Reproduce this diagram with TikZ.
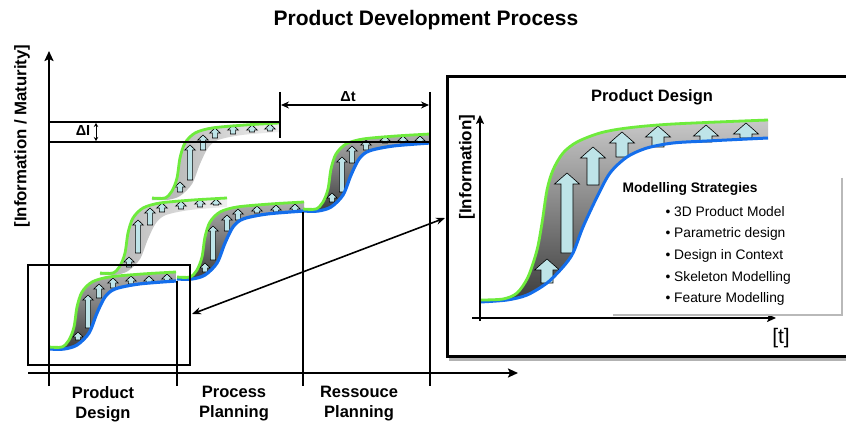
\documentclass[tikz,border=0pt]{standalone}
\usepackage{fontspec}
\setmainfont{Liberation Sans}
\usetikzlibrary{arrows.meta}

\definecolor{curvegreen}{RGB}{110,235,60}
\definecolor{curveblue}{RGB}{20,110,235}
\definecolor{arrowfill}{RGB}{190,228,232}
\definecolor{bandtop}{RGB}{175,175,175}
\definecolor{bandbot}{RGB}{60,60,60}
\definecolor{ghostleft}{RGB}{175,175,175}
\definecolor{ghostright}{RGB}{240,240,240}
\definecolor{insettop}{RGB}{200,200,200}
\definecolor{insetbot}{RGB}{60,60,60}

\tikzset{
  axisline/.style={line width=2.7pt, -{Stealth[length=10pt,width=9pt,inset=2pt]}},
  rule/.style={line width=2.6pt},
  greenline/.style={curvegreen, line width=2.8pt},
  blueline/.style={curveblue, line width=3.2pt},
  arrowbody/.style={fill=arrowfill, draw=black, line width=0.6pt, line join=miter},
  label/.style={font=\bfseries\fontsize{16.5}{20}\selectfont, align=center},
}

% block arrow pointing up: x, y of base, y of tip, head half-width, shaft half-width, head height
\newcommand\blockarrow[6]{%
  \filldraw[arrowbody] ({#1-#5},#2) -- ({#1-#5},{#3+#6}) -- ({#1-#4},{#3+#6})
    -- (#1,#3) -- ({#1+#4},{#3+#6}) -- ({#1+#5},{#3+#6}) -- ({#1+#5},#2) -- cycle;}
\newcommand\sarr[3]{\blockarrow{#1}{#2}{#3}{5.3}{2.6}{5}}
\newcommand\larr[3]{\blockarrow{#1}{#2}{#3}{12.5}{6}{11}}

% one S-shaped maturity step, origin at the start of its lower edge
\newcommand\stepband[1]{%
  \begin{scope}[shift={#1}]
    \shade[top color=bandtop, bottom color=bandbot]
      plot[smooth] coordinates {(0,-2) (13,-2) (20,-9) (25,-22) (28,-42) (33,-57) (43,-67) (60,-72) (93,-75) (127,-77)}
      -- plot[smooth] coordinates {(127,-68) (90,-65) (66,-60) (56,-52) (48,-36) (40,-16) (28,-4) (15,0) (0,0)} -- cycle;
  \end{scope}}
\newcommand\steplines[1]{%
  \begin{scope}[shift={#1}]
    \draw[blueline] plot[smooth] coordinates {(0,0) (15,0) (28,-4) (40,-16) (48,-36) (56,-52) (66,-60) (90,-65) (127,-68)};
    \draw[greenline] plot[smooth] coordinates {(0,-2) (13,-2) (20,-9) (25,-22) (28,-42) (33,-57) (43,-67) (60,-72) (93,-75) (127,-77)};
  \end{scope}}
% an earlier, shifted step drawn faintly
\newcommand\ghostband[1]{%
  \begin{scope}[shift={#1}]
    \shade[left color=ghostleft, right color=ghostright]
      plot[smooth] coordinates {(0,-2) (13,-2) (20,-9) (25,-22) (28,-42) (33,-57) (43,-67) (60,-72) (93,-75) (127,-77)}
      -- plot[smooth] coordinates {(127,-68) (90,-65) (66,-60) (56,-52) (48,-36) (40,-16) (28,-4) (15,0) (0,0)} -- cycle;
  \end{scope}}
\newcommand\ghostline[1]{%
  \begin{scope}[shift={#1}]
    \draw[greenline] plot[smooth] coordinates {(0,-2) (13,-2) (20,-9) (25,-22) (28,-42) (33,-57) (43,-67) (60,-72) (93,-75) (127,-77)};
  \end{scope}}

\begin{document}
\begin{tikzpicture}[x=1pt, y=-1pt]
\useasboundingbox[fill=white] (0,0) rectangle (846,422);

% title
\node[font=\bfseries\fontsize{21}{24}\selectfont] (title) at (426,20) {Product Development Process};

% ---------- shifted (earlier) steps ----------
\ghostband{(100,275)}
\ghostband{(152,200)}
\sarr{129}{267}{257} \sarr{138}{253}{220} \sarr{150}{225}{208} \sarr{162}{212}{203}
\sarr{181}{209}{201} \sarr{200}{207}{199} \sarr{216}{205}{199}
\sarr{180}{192}{182} \sarr{190}{180}{145} \sarr{203}{150}{135} \sarr{215}{138}{128}
\sarr{233}{134}{125} \sarr{252}{132}{125} \sarr{270}{131}{124}
\ghostline{(100,275)}
\ghostline{(152,200)}

% ---------- sequential steps ----------
\stepband{(49,349)}
\stepband{(177,279)}
\stepband{(303,211)}
\sarr{78}{340}{332} \sarr{88}{328}{295} \sarr{99}{298}{284} \sarr{113}{288}{278}
\sarr{131}{284}{276} \sarr{149}{283}{276} \sarr{167}{282}{274}
\sarr{205}{272}{263} \sarr{213}{260}{226} \sarr{227}{231}{215} \sarr{238}{220}{209}
\sarr{257}{213}{206} \sarr{276}{212}{205} \sarr{295}{211}{204}
\sarr{332}{202}{193} \sarr{342}{192}{157} \sarr{352}{163}{146} \sarr{366}{150}{140}
\sarr{385}{143}{136} \sarr{403}{143}{136} \sarr{420}{143}{136}
\steplines{(49,349)}
\steplines{(177,279)}
\steplines{(303,211)}

% ---------- axes and phase boundaries ----------
\coordinate (yaxB) at (49,386);
\coordinate (yaxT) at (49,51);
\coordinate (xaxL) at (28,373);
\coordinate (xaxR) at (518,373);
\draw[axisline] (yaxB) -- (yaxT);
\draw[axisline] (xaxL) -- (xaxR);
\coordinate (b1t) at (177,281); \coordinate (b1b) at (177,386);
\coordinate (b2t) at (303,212); \coordinate (b2b) at (303,386);
\coordinate (b3t) at (430,92);  \coordinate (b3b) at (430,386);
\draw[rule] (b1t) -- (b1b);
\draw[rule] (b2t) -- (b2b);
\draw[rule] (b3t) -- (b3b);

% maturity levels and offsets
\coordinate (hiL) at (49,122); \coordinate (hiR) at (281,122);
\coordinate (loL) at (49,142); \coordinate (loR) at (430,142);
\coordinate (dtt) at (280,92); \coordinate (dtb) at (280,138);
\draw[rule] (hiL) -- (hiR);
\draw[rule] (loL) -- (loR);
\draw[rule] (dtt) -- (dtb);
\coordinate (dtL) at (281,105); \coordinate (dtR) at (429,105);
\draw[line width=1.8pt, {Stealth[length=8pt,width=7pt]}-{Stealth[length=8pt,width=7pt]}] (dtL) -- (dtR);
\node[font=\bfseries\fontsize{14.5}{16}\selectfont] (dtlabel) at (348,97) {Δt};
\coordinate (diT) at (96,123); \coordinate (diB) at (96,141);
\draw[line width=0.9pt, {Stealth[length=4pt,width=4.5pt]}-{Stealth[length=4pt,width=4.5pt]}] (diT) -- (diB);
\node[font=\bfseries\fontsize{14.5}{16}\selectfont] (dilabel) at (83,131) {ΔI};

% axis label and phase names
\node[font=\bfseries\fontsize{16.8}{18}\selectfont, rotate=90] (ylabel) at (22,136) {[Information / Maturity]};
\node[label] (ph1) at (103,404) {Product\\Design};
\node[label] (ph2) at (234,404) {Process\\Planning};
\node[label] (ph3) at (359,404) {Ressouce\\Planning};

% highlighted region
\draw[rule] (28,265) rectangle (190,365);

% ---------- detail view ----------
\draw[gray!60, line width=3pt] (450,80) rectangle (866,359);
\draw[fill=white, line width=3pt] (447,77) rectangle (863,356);

\shade[top color=insettop, bottom color=insetbot]
  plot[smooth] coordinates {(480,300) (503,299) (517,293) (528,277) (537,250) (542,223) (547,190) (553,170) (563,153) (577,142) (600,133) (627,128) (673,124) (768,120)}
  -- plot[smooth] coordinates {(768,138) (707,141) (673,143) (647,148) (627,157) (610,173) (597,197) (583,227) (573,253) (563,267) (547,283) (527,295) (507,300) (480,302)} -- cycle;
\larr{547}{283}{259} \larr{567}{253}{173} \larr{593}{185}{147} \larr{622}{157}{132}
\larr{658}{147}{126} \larr{706}{142}{125} \larr{746}{138}{123}
\draw[curveblue, line width=3pt] plot[smooth] coordinates {(480,302) (507,300) (527,295) (547,283) (563,267) (573,253) (583,227) (597,197) (610,173) (627,157) (647,148) (673,143) (707,141) (768,138)};
\draw[curvegreen, line width=2.8pt] plot[smooth] coordinates {(480,300) (503,299) (517,293) (528,277) (537,250) (542,223) (547,190) (553,170) (563,153) (577,142) (600,133) (627,128) (673,124) (768,120)};

\coordinate (iyB) at (480,321); \coordinate (iyT) at (480,115);
\coordinate (ixL) at (472,318); \coordinate (ixR) at (776,318);
\draw[line width=2pt, -{Stealth[length=9pt,width=8pt,inset=2pt]}] (iyB) -- (iyT);
\draw[line width=2pt, -{Stealth[length=9pt,width=8pt,inset=2pt]}] (ixL) -- (ixR);
\node[font=\bfseries\fontsize{16.5}{18}\selectfont] (ititle) at (652,97) {Product Design};
\node[font=\bfseries\fontsize{17}{18}\selectfont, rotate=90] (iylabel) at (467,167) {[Information]};
\node[font=\fontsize{21}{22}\selectfont] (itlabel) at (781,338) {[t]};

% strategies list
\draw[gray!55, line width=2pt] (842,178) -- (842,315) -- (613,315);
\node[font=\bfseries\fontsize{13.8}{16}\selectfont, anchor=west] (mstitle) at (619,189) {Modelling Strategies};
\begin{scope}[every node/.style={font=\fontsize{13.8}{16}\selectfont, anchor=west}]
  \node (ms1) at (662,212) {• 3D Product Model};
  \node (ms2) at (662,234) {• Parametric design};
  \node (ms3) at (662,256) {• Design in Context};
  \node (ms4) at (662,278) {• Skeleton Modelling};
  \node (ms5) at (662,299) {• Feature Modelling};
\end{scope}

% link between highlighted region and detail view
\coordinate (linkA) at (192,314);
\coordinate (linkB) at (445,218);
\draw[line width=1.6pt, {Stealth[length=9pt,width=7pt]}-{Stealth[length=9pt,width=7pt]}] (linkA) -- (linkB);
\end{tikzpicture}
\end{document}
